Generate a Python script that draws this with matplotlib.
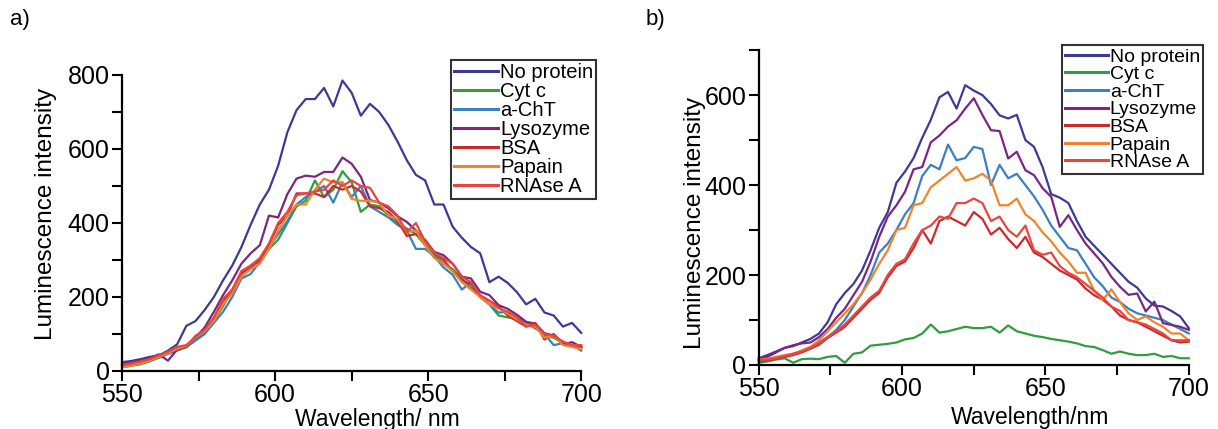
import matplotlib
matplotlib.use("Agg")
import matplotlib.pyplot as plt
from matplotlib.ticker import MultipleLocator

plt.rcParams['font.family'] = ['Liberation Sans', 'DejaVu Sans']

wavelength = list(range(550, 701, 3))
series_names = ["No protein", "Cyt c", "a-ChT", "Lysozyme", "BSA", "Papain", "RNAse A"]
colors = ["#3d3a96", "#2e9e3e", "#3a80c2", "#7a2682", "#cc2a2a", "#f0842c", "#e8463f"]

# Panel a
a_none = [24,27,32,38,42,55,72,122,135,165,200,245,285,335,395,450,490,555,645,705,735,735,765,715,785,752,690,722,700,665,620,570,530,515,450,450,390,360,335,318,240,255,238,213,180,195,158,150,120,130,103]
a_cytc = [10,14,18,26,36,48,58,68,85,105,135,175,220,262,285,300,330,355,400,445,460,515,470,490,540,510,430,450,445,420,400,385,370,340,315,290,275,250,225,200,180,150,145,140,130,120,95,90,75,68,62]
a_achT = [15,18,22,28,36,46,55,65,82,100,130,160,200,250,262,295,335,370,405,450,470,485,500,455,510,470,500,445,430,415,395,380,330,330,310,280,260,220,240,200,180,158,160,145,130,115,100,70,75,70,55]
a_lyso = [20,24,29,35,45,28,58,65,90,118,160,205,245,290,318,340,420,415,478,520,528,525,538,538,577,560,525,462,455,440,418,403,380,352,322,313,290,255,250,214,205,178,168,152,133,128,102,96,72,78,65]
a_bsa = [14,18,24,30,40,50,62,65,95,110,140,190,215,265,280,300,340,395,420,480,480,480,470,500,490,500,485,445,440,430,405,365,370,355,320,300,270,245,235,200,190,175,150,135,120,130,85,100,75,70,65]
a_papain = [10,15,20,28,38,48,60,68,90,108,135,180,210,255,275,290,330,380,420,450,450,490,520,510,510,465,460,460,455,420,410,375,380,340,305,290,270,240,220,200,180,170,155,140,125,120,90,95,70,65,60]
a_rnase = [16,20,26,32,42,52,65,70,92,112,145,195,220,270,285,305,345,400,430,475,480,485,490,515,500,515,500,495,455,445,420,375,400,350,320,305,290,255,240,205,190,170,160,145,120,125,100,95,80,70,70]

# Panel b
b_none = [15,22,30,38,42,50,58,70,95,135,160,180,210,255,305,340,405,430,460,505,545,595,607,570,622,610,600,580,555,548,556,500,485,440,380,372,360,320,285,265,245,225,205,185,172,148,132,130,120,108,82]
b_cytc = [5,8,12,15,5,13,14,13,18,20,5,25,28,43,45,47,50,57,60,70,90,72,75,80,85,82,82,85,72,88,75,70,65,62,58,55,52,48,42,40,33,25,30,25,22,22,25,18,20,15,15]
b_achT = [7,10,14,18,24,32,40,50,62,78,100,130,160,200,250,270,300,335,360,420,445,435,490,455,460,485,480,400,445,415,425,400,375,345,310,285,260,255,225,195,175,150,140,125,115,110,105,100,90,80,70]
b_lyso = [11,18,28,38,44,48,50,62,80,105,125,155,185,230,285,330,355,385,435,440,495,510,530,544,570,593,556,522,520,459,474,433,422,393,374,307,333,300,270,248,226,196,174,156,159,119,141,93,89,85,78]
b_bsa = [10,10,14,18,22,28,36,45,60,72,85,105,125,145,160,195,220,230,260,300,270,320,330,320,310,340,325,290,305,280,260,285,250,240,225,210,200,190,170,155,145,130,110,100,95,85,75,65,55,50,52]
b_papain = [12,14,18,22,25,32,40,55,75,95,115,135,160,190,225,255,300,305,355,360,395,410,425,440,410,415,425,410,355,355,370,335,320,295,275,250,230,205,205,165,145,168,140,115,100,108,95,85,70,70,55]
b_rnase = [12,12,15,20,25,30,38,48,62,75,90,110,130,150,165,200,225,235,270,300,310,330,325,360,360,370,360,320,330,300,285,310,255,245,250,220,205,195,180,165,150,130,120,100,95,90,80,70,55,55,55]

panel_a = [a_none, a_cytc, a_achT, a_lyso, a_bsa, a_papain, a_rnase]
panel_b = [b_none, b_cytc, b_achT, b_lyso, b_bsa, b_papain, b_rnase]

fig = plt.figure(figsize=(12.18, 4.29), dpi=100)
ax_a = fig.add_axes([0.1002, 0.1352, 0.377, 0.690])
ax_b = fig.add_axes([0.623, 0.1492, 0.353, 0.734])

def style(ax, ymax, ymajor, xlabel, xlab_pos, ylab_pos):
    ax.set_xlim(550, 700)
    ax.set_ylim(0, ymax)
    for s in ("top", "right"):
        ax.spines[s].set_visible(False)
    for s in ("left", "bottom"):
        ax.spines[s].set_linewidth(1.6)
    ax.xaxis.set_major_locator(MultipleLocator(50))
    ax.xaxis.set_minor_locator(MultipleLocator(25))
    ax.yaxis.set_major_locator(MultipleLocator(ymajor))
    ax.yaxis.set_minor_locator(MultipleLocator(ymajor / 2))
    ax.tick_params(which="both", direction="out", length=7, width=1.5)
    ax.tick_params(which="major", labelsize=18, pad=2)
    ax.set_xlabel(xlabel, fontsize=16.5)
    ax.set_ylabel("Luminescence intensity", fontsize=17.5)
    ax.xaxis.set_label_coords(*xlab_pos)
    ax.yaxis.set_label_coords(*ylab_pos)

for ax, data in ((ax_a, panel_a), (ax_b, panel_b)):
    for name, vals, c in zip(series_names, data, colors):
        ax.plot(wavelength, vals, color=c, lw=1.6, label=name, clip_on=False)

style(ax_a, 800, 200, "Wavelength/ nm", (0.556, -0.125), (-0.142, 0.53))
style(ax_b, 700, 200, "Wavelength/nm", (0.63, -0.13), (-0.122, 0.45))

def legend(ax, anchor, fs, sp):
    leg = ax.legend(loc="upper right", bbox_to_anchor=anchor, bbox_transform=fig.transFigure,
                    fontsize=fs, frameon=True, fancybox=False, borderpad=0.15,
                    labelspacing=sp, handlelength=2.2, handletextpad=0.1,
                    borderaxespad=0)
    fr = leg.get_frame()
    fr.set_edgecolor("black")
    fr.set_linewidth(1.5)
    for ln in leg.get_lines():
        ln.set_linewidth(2.2)

legend(ax_a, (0.4895, 0.8601), 14.5, 0.0)
legend(ax_b, (0.9877, 0.8951), 14, 0.0)

fig.text(0.008, 0.955, "a)", fontsize=16, va="center", ha="left")
fig.text(0.530, 0.955, "b)", fontsize=16, va="center", ha="left")

fig.savefig("out.png", dpi=100)
